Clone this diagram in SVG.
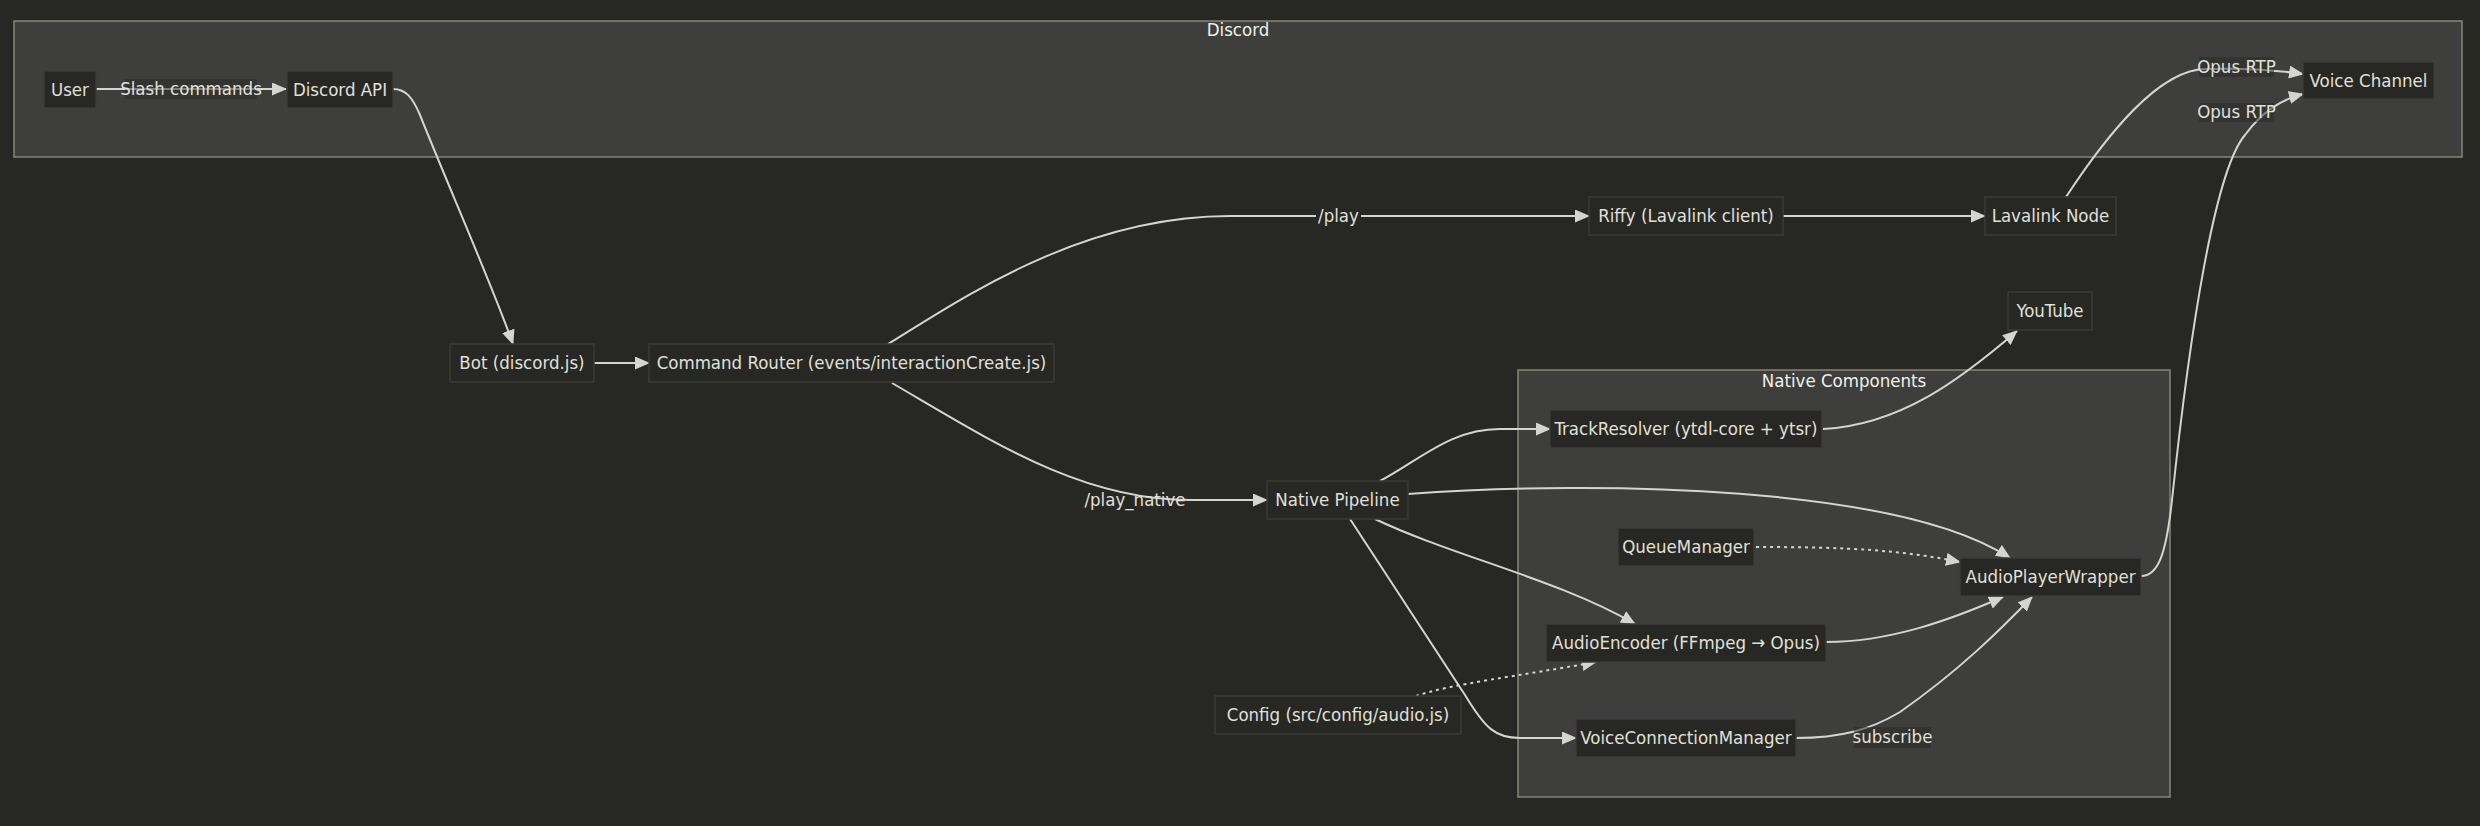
<svg xmlns="http://www.w3.org/2000/svg" width="2480" height="826" viewBox="0 0 2480 826">
<style>
.bg{fill:#272723}
.cluster{fill:#3e3f3c;stroke:#8a8775;stroke-width:1.5}
.node{fill:#272723;stroke:#3c3c37;stroke-width:1.5}
.t{font-family:"DejaVu Sans Condensed","DejaVu Sans",sans-serif;font-size:18.5px;fill:#e0e0da;text-anchor:middle}
.ct{font-family:"DejaVu Sans Condensed","DejaVu Sans",sans-serif;font-size:18.5px;fill:#f0f0ea;text-anchor:middle}
.e{fill:none;stroke:#d4d4d0;stroke-width:2}
.d{stroke-dasharray:3 4}
.lb{fill:#272723;opacity:0.5}
.lbo{fill:#272723}
</style>
<defs>
<marker id="arrow" viewBox="0 0 15 13" refX="14" refY="6.5" markerWidth="15" markerHeight="13" markerUnits="userSpaceOnUse" orient="auto">
<path d="M0,0 L15,6.5 L0,13 z" fill="#d4d4d0"/>
</marker>
</defs>
<rect class="bg" x="0" y="0" width="2480" height="826"/>
<g id="cluster-discord">
<rect class="cluster" x="14" y="21" width="2448" height="136"/>
<text class="ct" x="1238" y="36">Discord</text>
</g>
<g id="cluster-native">
<rect class="cluster" x="1518" y="370" width="652" height="427"/>
<text class="ct" x="1844" y="387">Native Components</text>
</g>
<g id="connectors">
<path class="e" marker-end="url(#arrow)" d="M96,89 L286,89"/>
<path class="e" marker-end="url(#arrow)" d="M393,89 C405,89 412,96 420,115 C450,190 490,280 513,344"/>
<path class="e" marker-end="url(#arrow)" d="M594,363 L649,363"/>
<path class="e" marker-end="url(#arrow)" d="M888,344 C960,300 1080,216 1230,216 L1589,216"/>
<path class="e" marker-end="url(#arrow)" d="M1783,216 L1985,216"/>
<path class="e" marker-end="url(#arrow)" d="M2066,197 C2110,130 2160,70 2205,69 C2240,68 2275,70 2303,74"/>
<path class="e" marker-end="url(#arrow)" d="M892,383 C990,440 1080,500 1190,500 L1267,500"/>
<path class="e" marker-end="url(#arrow)" d="M1380,481 C1420,460 1450,429 1500,429 L1550,429"/>
<path class="e" marker-end="url(#arrow)" d="M1408,494 C1600,480 1900,486 2010,558"/>
<path class="e d" marker-end="url(#arrow)" d="M1756,547 C1850,547 1900,550 1960,562"/>
<path class="e" marker-end="url(#arrow)" d="M1375,519 C1450,555 1560,580 1635,624"/>
<path class="e" marker-end="url(#arrow)" d="M1350,519 L1465,695 C1485,728 1495,738 1520,738 L1576,738"/>
<path class="e d" marker-end="url(#arrow)" d="M1416,696 C1450,684 1520,676 1596,662"/>
<path class="e" marker-end="url(#arrow)" d="M1823,429 C1900,425 1960,380 2017,331"/>
<path class="e" marker-end="url(#arrow)" d="M1826,642 C1890,642 1950,620 2003,597"/>
<path class="e" marker-end="url(#arrow)" d="M1796,738 C1840,738 1870,730 1900,712 C1960,670 2000,630 2032,597"/>
<path class="e" marker-end="url(#arrow)" d="M2141,576 C2158,576 2166,555 2172,500 C2190,330 2215,170 2245,135 C2262,112 2280,100 2303,94"/>
<g id="edge-labels">
<rect class="lb" x="125" y="79" width="132" height="20"/>
<text class="t" x="191" y="95">Slash commands</text>
<rect class="lbo" x="1316" y="205" width="45" height="22"/>
<text class="t" x="1338.5" y="222">/play</text>
<text class="t" x="1135" y="506">/play_native</text>
<rect class="lb" x="2199" y="57" width="75" height="20"/>
<text class="t" x="2236.5" y="73">Opus RTP</text>
<rect class="lb" x="2199" y="103" width="75" height="19"/>
<text class="t" x="2236.5" y="118">Opus RTP</text>
<rect class="lb" x="1854" y="727" width="77" height="21"/>
<text class="t" x="1892.5" y="743">subscribe</text>
</g>
</g>
<g id="user"><rect class="node" x="44" y="71" width="52" height="37"/><text class="t" x="70" y="96">User</text></g>
<g id="discord-api"><rect class="node" x="287" y="71" width="106" height="37"/><text class="t" x="340" y="96">Discord API</text></g>
<g id="voice-channel"><rect class="node" x="2303" y="62" width="131" height="37"/><text class="t" x="2368.5" y="87">Voice Channel</text></g>
<g id="bot"><rect class="node" x="450" y="344" width="144" height="38"/><text class="t" x="522" y="369">Bot (discord.js)</text></g>
<g id="command-router"><rect class="node" x="649" y="344" width="405" height="38"/><text class="t" x="851.5" y="369">Command Router (events/interactionCreate.js)</text></g>
<g id="riffy"><rect class="node" x="1589" y="197" width="194" height="38"/><text class="t" x="1686" y="222">Riffy (Lavalink client)</text></g>
<g id="lavalink-node"><rect class="node" x="1985" y="197" width="131" height="38"/><text class="t" x="2050.5" y="222">Lavalink Node</text></g>
<g id="youtube"><rect class="node" x="2008" y="292" width="84" height="38"/><text class="t" x="2050" y="317">YouTube</text></g>
<g id="native-pipeline"><rect class="node" x="1267" y="481" width="141" height="38"/><text class="t" x="1337.5" y="506">Native Pipeline</text></g>
<g id="track-resolver"><rect class="node" x="1550" y="410" width="272" height="38"/><text class="t" x="1686" y="435">TrackResolver (ytdl-core + ytsr)</text></g>
<g id="queue-manager"><rect class="node" x="1618" y="528" width="136" height="38"/><text class="t" x="1686" y="553">QueueManager</text></g>
<g id="audio-player-wrapper"><rect class="node" x="1960" y="558" width="181" height="38"/><text class="t" x="2050.5" y="583">AudioPlayerWrapper</text></g>
<g id="audio-encoder"><rect class="node" x="1546" y="624" width="280" height="38"/><text class="t" x="1686" y="649">AudioEncoder (FFmpeg → Opus)</text></g>
<g id="config"><rect class="node" x="1215" y="696" width="246" height="38"/><text class="t" x="1338" y="721">Config (src/config/audio.js)</text></g>
<g id="voice-connection-manager"><rect class="node" x="1576" y="719" width="220" height="38"/><text class="t" x="1686" y="744">VoiceConnectionManager</text></g>
</svg>
